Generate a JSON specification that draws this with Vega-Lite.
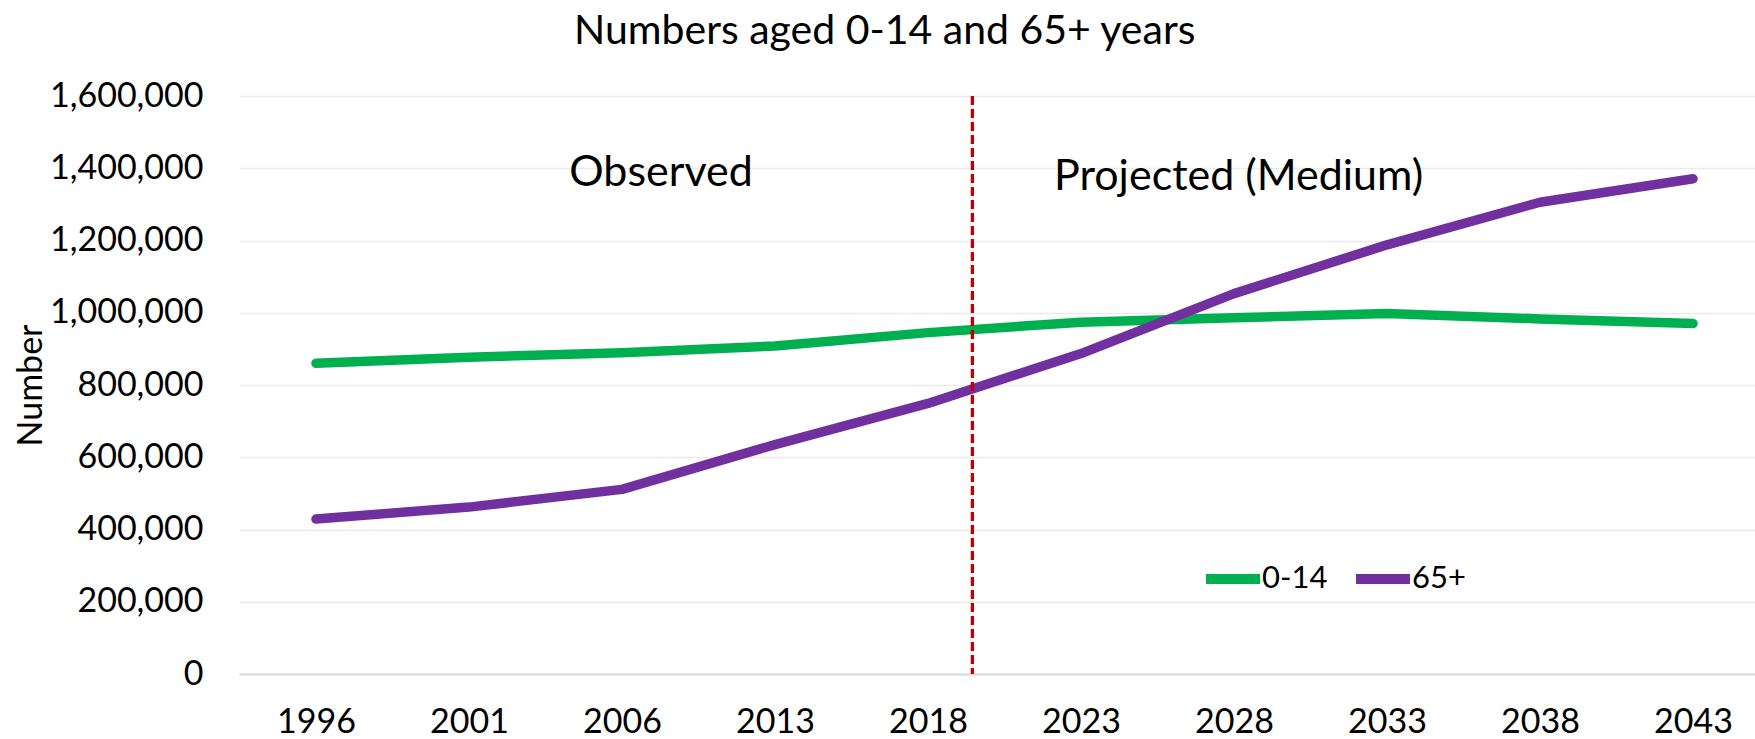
{
  "$schema": "https://vega.github.io/schema/vega-lite/v6.json",
  "autosize": {"type": "none"},
  "width": 1516,
  "height": 578,
  "padding": {"left": 239, "top": 96, "right": 0, "bottom": 65},
  "title": {
    "text": "Numbers aged 0-14 and 65+ years",
    "frame": "bounds",
    "anchor": "middle",
    "fontSize": 41,
    "fontWeight": "normal",
    "color": "#000000",
    "offset": 26
  },
  "config": {
    "font": "Lato",
    "view": {"stroke": null}
  },
  "datasets": {
    "population": [
      {"year": "1996", "group": "0-14", "value": 860000},
      {"year": "2001", "group": "0-14", "value": 877000},
      {"year": "2006", "group": "0-14", "value": 889000},
      {"year": "2013", "group": "0-14", "value": 908000},
      {"year": "2018", "group": "0-14", "value": 945000},
      {"year": "2023", "group": "0-14", "value": 974000},
      {"year": "2028", "group": "0-14", "value": 986000},
      {"year": "2033", "group": "0-14", "value": 998000},
      {"year": "2038", "group": "0-14", "value": 983000},
      {"year": "2043", "group": "0-14", "value": 970000},
      {"year": "1996", "group": "65+", "value": 429000},
      {"year": "2001", "group": "65+", "value": 462000},
      {"year": "2006", "group": "65+", "value": 511000},
      {"year": "2013", "group": "65+", "value": 635000},
      {"year": "2018", "group": "65+", "value": 749000},
      {"year": "2023", "group": "65+", "value": 887000},
      {"year": "2028", "group": "65+", "value": 1053000},
      {"year": "2033", "group": "65+", "value": 1188000},
      {"year": "2038", "group": "65+", "value": 1306000},
      {"year": "2043", "group": "65+", "value": 1371000}
    ],
    "divider": [
      {"position": 4.29}
    ],
    "periods": [
      {"position": 2.255, "value": 1349500, "label": "Observed"},
      {"position": 6.03, "value": 1338500, "label": "Projected (Medium)"}
    ]
  },
  "layer": [
    {
      "data": {"name": "population"},
      "mark": {"type": "line", "strokeWidth": 9.5, "strokeCap": "round", "strokeJoin": "round"},
      "encoding": {
        "x": {
          "field": "year",
          "type": "ordinal",
          "sort": null,
          "scale": {"type": "point", "padding": 0.454, "align": 0.554},
          "axis": {
            "title": null,
            "labelAngle": 0,
            "labelFontSize": 34,
            "labelColor": "#000000",
            "labelPadding": 31,
            "ticks": false,
            "grid": false,
            "domain": true,
            "domainColor": "#D9D9D9",
            "domainWidth": 2
          }
        },
        "y": {
          "field": "value",
          "type": "quantitative",
          "scale": {"domain": [0, 1600000], "nice": false},
          "axis": {
            "title": "Number",
            "titleFontSize": 34,
            "titleFontWeight": "normal",
            "titleColor": "#000000",
            "titlePadding": 1,
            "values": [0, 200000, 400000, 600000, 800000, 1000000, 1200000, 1400000, 1600000],
            "labelExpr": "format(datum.value, ',')",
            "labelFontSize": 34,
            "labelColor": "#000000",
            "labelPadding": 36,
            "ticks": false,
            "domain": false,
            "gridColor": "#EBEBEB",
            "gridWidth": 1.5
          }
        },
        "color": {
          "field": "group",
          "type": "nominal",
          "scale": {"domain": ["0-14", "65+"], "range": ["#00B050", "#7030A0"]},
          "legend": {
            "title": null,
            "orient": "none",
            "legendX": 962,
            "legendY": 451,
            "direction": "horizontal",
            "padding": 0,
            "symbolType": "stroke",
            "symbolSize": 2916,
            "symbolStrokeWidth": 10,
            "labelFontSize": 31,
            "labelColor": "#000000",
            "labelOffset": -3,
            "columnPadding": 8
          }
        }
      }
    },
    {
      "layer": [
        {
          "data": {"name": "divider"},
          "mark": {"type": "rule", "color": "#C00000", "strokeWidth": 3.3, "strokeDash": [9, 4]},
          "encoding": {
            "x": {
              "field": "position",
              "type": "quantitative",
              "scale": {"domain": [-0.5033, 9.405], "nice": false, "zero": false},
              "axis": null
            }
          }
        },
        {
          "data": {"name": "periods"},
          "mark": {"type": "text", "fontSize": 43, "color": "#000000", "align": "center", "baseline": "alphabetic"},
          "encoding": {
            "x": {
              "field": "position",
              "type": "quantitative",
              "scale": {"domain": [-0.5033, 9.405], "nice": false, "zero": false},
              "axis": null
            },
            "y": {
              "field": "value",
              "type": "quantitative"
            },
            "text": {"field": "label"}
          }
        }
      ]
    }
  ],
  "resolve": {"scale": {"x": "independent"}}
}
